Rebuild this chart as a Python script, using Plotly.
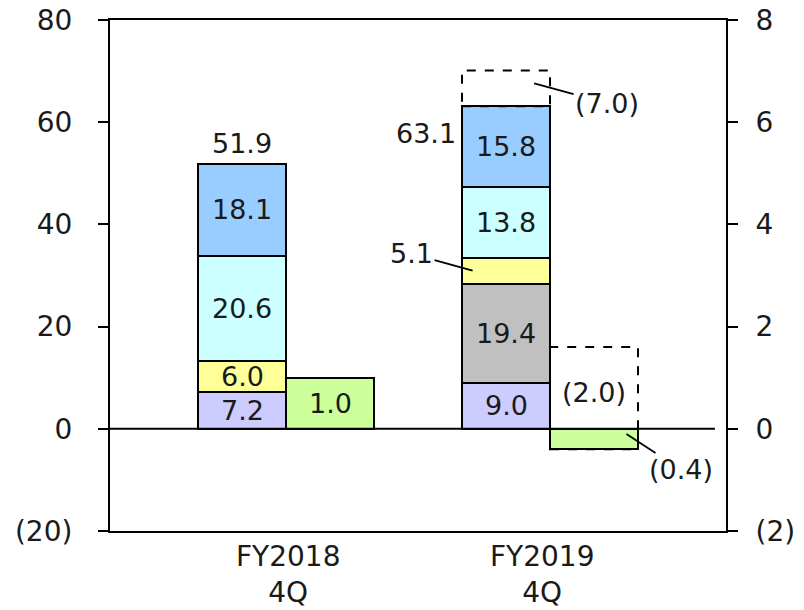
import numpy as np
import plotly.graph_objects as go

# ---------------- data ----------------
categories_line1 = ["FY2018", "FY2019"]
categories_line2 = ["4Q", "4Q"]
seg_lavender = [7.2, 9.0]
seg_gray = [0.0, 19.4]
seg_yellow = [6.0, 5.1]
seg_cyan = [20.6, 13.8]
seg_blue = [18.1, 15.8]
totals = [51.9, 63.1]
green_right = [1.0, -0.4]          # right axis
stack_decrease = [0.0, 7.0]        # dashed box above stacked bar
green_decrease = [0.0, 2.0]        # dashed box for right-axis bar
left_ticks = [-20, 0, 20, 40, 60, 80]
right_ticks = [-2, 0, 2, 4, 6, 8]

# ---------------- style ----------------
FONT = "DejaVu Sans"
TXT = "#1a1a1a"
FS = 27
segments = [
    (seg_lavender, "#CCCCFF"),
    (seg_gray, "#C0C0C0"),
    (seg_yellow, "#FFFF99"),
    (seg_cyan, "#CCFFFF"),
    (seg_blue, "#99CCFF"),
]
GREEN = "#CCFF99"
W = 1 / 3
LABEL_XSHIFT = [2, -8]


def fmt(v):
    return f"({abs(v):.1f})" if v < 0 else f"{v:.1f}"


def fmt_tick(v):
    return f"({abs(v)})" if v < 0 else str(v)


cat_x = np.arange(len(categories_line1), dtype=float)
stack_x = cat_x - W / 2
green_x = cat_x + W / 2

fig = go.Figure()
annotations = []

base = np.zeros(len(cat_x))
for vals, color in segments:
    vals = np.array(vals, dtype=float)
    yv = [v if v > 0 else None for v in vals]
    fig.add_trace(go.Bar(
        x=stack_x, y=yv, base=base, width=W,
        marker=dict(color=color, line=dict(color="black", width=2)),
        showlegend=False, hoverinfo="skip",
    ))
    for i, v in enumerate(vals):
        if v <= 0:
            continue
        mid = base[i] + v / 2
        if v >= 6:
            annotations.append(dict(x=stack_x[i], y=mid, xref="x", yref="y",
                                    text=fmt(v), showarrow=False,
                                    font=dict(family=FONT, size=FS, color=TXT)))
        else:
            annotations.append(dict(x=stack_x[i] - W / 2 + 0.04, y=mid, xref="x", yref="y",
                                    text=fmt(v), showarrow=True, arrowhead=0,
                                    arrowwidth=1.8, arrowcolor="black",
                                    ax=-61, ay=-17,
                                    font=dict(family=FONT, size=FS, color=TXT)))
    base = base + vals

# right-axis bar
fig.add_trace(go.Bar(
    x=green_x, y=green_right, base=[0] * len(green_right), width=W, yaxis="y2",
    marker=dict(color=GREEN, line=dict(color="black", width=2)),
    showlegend=False, hoverinfo="skip",
))

shapes = []
for i in range(len(cat_x)):
    # totals
    if stack_decrease[i] > 0:
        annotations.append(dict(x=stack_x[i] - W / 2, y=totals[i], xref="x", yref="y",
                                text=fmt(totals[i]), showarrow=False,
                                xanchor="right", yanchor="middle", xshift=-4, yshift=-27,
                                font=dict(family=FONT, size=FS, color=TXT)))
        top = totals[i] + stack_decrease[i]
        shapes.append(dict(type="rect", xref="x", yref="y",
                           x0=stack_x[i] - W / 2, x1=stack_x[i] + W / 2,
                           y0=totals[i], y1=top,
                           line=dict(color="black", width=2, dash="dash"), layer="above"))
        annotations.append(dict(x=stack_x[i] + W / 2 - 0.06, y=top - 2.5, xref="x", yref="y",
                                text=fmt(-stack_decrease[i]), showarrow=True, arrowhead=0,
                                arrowwidth=1.8, arrowcolor="black", ax=73, ay=20,
                                font=dict(family=FONT, size=FS, color=TXT)))
    else:
        annotations.append(dict(x=stack_x[i], y=totals[i], xref="x", yref="y",
                                text=fmt(totals[i]), showarrow=False,
                                yanchor="bottom", yshift=3,
                                font=dict(family=FONT, size=FS, color=TXT)))
    # right-axis bar labels
    g = green_right[i]
    if green_decrease[i] > 0:
        gtop = g + green_decrease[i]
        shapes.append(dict(type="rect", xref="x", yref="y2",
                           x0=green_x[i] - W / 2, x1=green_x[i] + W / 2,
                           y0=g, y1=gtop,
                           line=dict(color="black", width=2, dash="dash"), layer="below"))
        annotations.append(dict(x=green_x[i], y=gtop / 2, xref="x", yref="y2",
                                text=fmt(-green_decrease[i]), showarrow=False, yshift=-5,
                                font=dict(family=FONT, size=FS, color=TXT)))
        annotations.append(dict(x=green_x[i] + 0.123, y=g / 4, xref="x", yref="y2",
                                text=fmt(g), showarrow=True, arrowhead=0,
                                arrowwidth=1.8, arrowcolor="black", ax=55, ay=36,
                                font=dict(family=FONT, size=FS, color=TXT)))
    else:
        annotations.append(dict(x=green_x[i], y=g / 2, xref="x", yref="y2",
                                text=fmt(g), showarrow=False,
                                font=dict(family=FONT, size=FS, color=TXT)))
    # category labels
    annotations.append(dict(x=cat_x[i], y=0, xref="x", yref="paper",
                            text=categories_line1[i] + "<br>" + categories_line2[i],
                            showarrow=False, yanchor="top", yshift=-7,
                            xshift=LABEL_XSHIFT[i],
                            font=dict(family=FONT, size=28, color=TXT)))

# zero line
shapes.append(dict(type="line", xref="paper", yref="y", x0=0, x1=0.982, y0=0, y1=0,
                   line=dict(color="black", width=2), layer="above"))

axis_common = dict(showgrid=False, zeroline=False, showline=True, linecolor="black",
                   linewidth=2, ticks="outside", ticklen=10, tickwidth=2, tickcolor="black",
                   automargin=False, ticklabeloverflow="allow",
                   tickfont=dict(family=FONT, size=28, color=TXT))

fig.update_layout(
    width=804, height=610,
    margin=dict(l=110, r=78, t=20, b=79, autoexpand=False),
    paper_bgcolor="white", plot_bgcolor="white",
    barmode="overlay", bargap=0,
    showlegend=False,
    xaxis=dict(range=[-2 / 3, 5 / 3], showgrid=False, zeroline=False, showline=True,
               mirror=True, linecolor="black", linewidth=2, showticklabels=False, ticks="",
               automargin=False),
    yaxis=dict(range=[-20, 80], tickvals=left_ticks, ticktext=[fmt_tick(v) for v in left_ticks],
               ticklabelstandoff=20, **axis_common),
    yaxis2=dict(range=[-2, 8], tickvals=right_ticks, ticktext=[fmt_tick(v) for v in right_ticks],
                overlaying="y", side="right", ticklabelstandoff=12, **axis_common),
    annotations=annotations,
    shapes=shapes,
)

# remove the page's default body margin so the figure fills the window exactly
fig.write_html("out.html", config={"displayModeBar": False},
               post_script="document.body.style.margin='0';")
